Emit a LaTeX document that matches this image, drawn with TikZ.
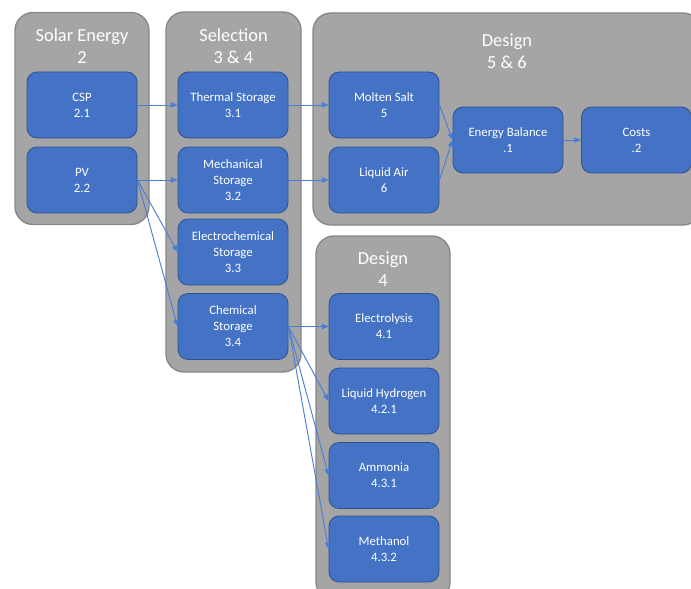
\documentclass[tikz,border=0pt]{standalone}
\usepackage{fontspec}
\setmainfont{Carlito}
\usetikzlibrary{arrows.meta}
\definecolor{boxblue}{HTML}{4472C4}
\definecolor{boxedge}{HTML}{2F528F}
\definecolor{groupgray}{HTML}{A5A5A5}
\definecolor{groupedge}{HTML}{878787}
\definecolor{linkblue}{HTML}{4A7DD6}
\begin{document}
\begin{tikzpicture}[x=0.75pt,y=-0.75pt,
    group/.style ={rectangle, rounded corners=13.5pt, draw=groupedge, fill=groupgray, line width=1pt},
    grouptitle/.style ={text=white, align=center, font=\fontsize{13.8}{16.5}\selectfont},
    task/.style ={rectangle, rounded corners=7.5pt, draw=boxedge, fill=boxblue, line width=0.6pt,
      text=white, align=center, minimum width=82.5pt, minimum height=49.5pt, inner sep=1pt,
      font=\fontsize{9.6}{12}\selectfont},
    link/.style ={draw=linkblue, line width=0.7pt, -{Triangle[length=5pt,width=4pt]}}]
   \useasboundingbox (0,0) rectangle (691,588);
   \clip (0,0) rectangle (691,588);

   % groups
   \node[group, minimum width=100.5pt, minimum height=159pt] (solar) at (82,118.5) {};
   \node[group, minimum width=101.25pt, minimum height=270pt] (selection) at (233.5,192) {};
   \node[group, minimum width=291pt, minimum height=159pt] (designA) at (507,119) {};
   \node[group, minimum width=100.5pt, minimum height=273pt] (designB) at (383,418) {};

   \node[grouptitle] (solarT) at (82,46) {Solar Energy\\2};
   \node[grouptitle] (selectionT) at (233.5,46) {Selection\\3 \& 4};
   \node[grouptitle] (designAT) at (507,51) {Design\\5 \& 6};
   \node[grouptitle] (designBT) at (383,269) {Design\\4};

   % tasks
   \node[task] (csp) at (82,105) {CSP\\2.1};
   \node[task] (pv) at (82,180) {PV\\2.2};
   \node[task] (thermal) at (233,105) {Thermal Storage\\3.1};
   \node[task] (mech) at (233,180) {Mechanical\\Storage\\3.2};
   \node[task] (electro) at (233,252) {Electrochemical\\Storage\\3.3};
   \node[task] (chem) at (233,326.5) {Chemical\\Storage\\3.4};
   \node[task] (salt) at (384,105) {Molten Salt\\5};
   \node[task] (air) at (384,180) {Liquid Air\\6};
   \node[task] (balance) at (508,140) {Energy Balance\\.1};
   \node[task] (costs) at (636.5,140) {Costs\\.2};
   \node[task] (lysis) at (384,326.5) {Electrolysis\\4.1};
   \node[task] (hydrogen) at (384,401) {Liquid Hydrogen\\4.2.1};
   \node[task] (ammonia) at (384,475.5) {Ammonia\\4.3.1};
   \node[task] (methanol) at (384,549) {Methanol\\4.3.2};

   \draw[link] (csp.east) to (thermal.west);
   \draw[link] (pv.east) to (mech.west);
   \draw[link] (pv.east) to (electro.west);
   \draw[link] (pv.east) to (chem.west);
   \draw[link] (thermal.east) to (salt.west);
   \draw[link] (mech.east) to (air.west);
   \draw[link] (salt.east) to (balance.west);
   \draw[link] (air.east) to (balance.west);
   \draw[link] (balance.east) to (costs.west);
   \draw[link] (chem.east) to (lysis.west);
   \draw[link] (chem.east) to (hydrogen.west);
   \draw[link] (chem.east) to (ammonia.west);
   \draw[link] (chem.east) to (methanol.west);
\end{tikzpicture}
\end{document}
